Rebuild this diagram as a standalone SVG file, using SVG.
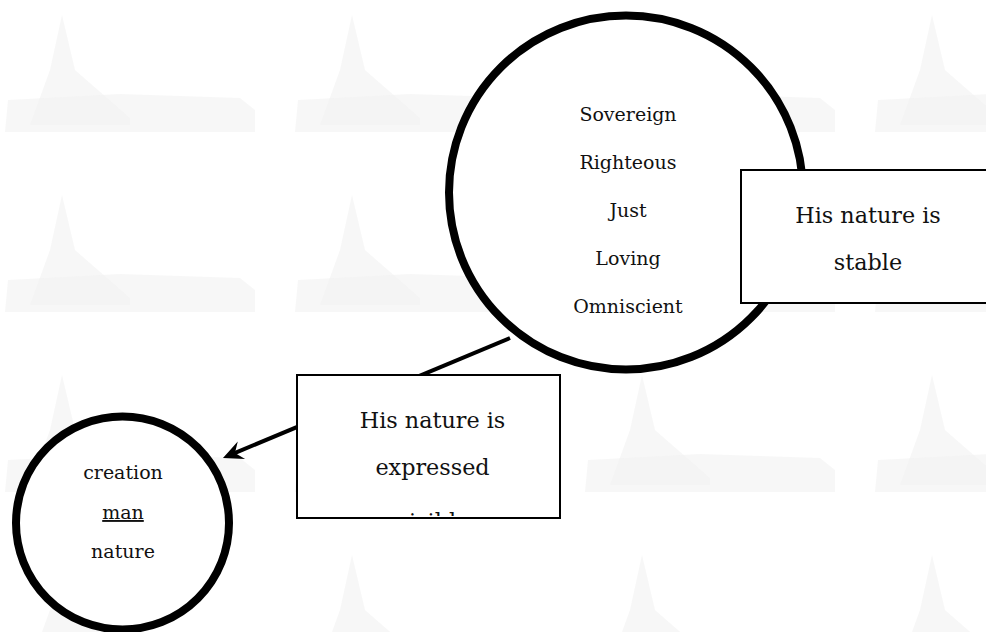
<svg xmlns="http://www.w3.org/2000/svg" width="986" height="632" viewBox="0 0 986 632">
<style>
.t{font-family:"DejaVu Serif","Liberation Serif",serif;fill:#111;text-anchor:middle}
.s{font-size:19px}
.b{font-size:22.3px}
.node{fill:#fff;stroke:#000}
.wm{fill:#f1f1f1}
</style>
<defs>
<pattern id="church" x="0" y="0" width="290" height="180" patternUnits="userSpaceOnUse">
<path class="wm" d="M30,125 L50,70 L62,15 L75,70 L130,118 L130,125 Z" opacity="0.6"/>
<path class="wm" d="M8,100 L120,94 L240,98 L255,110 L255,132 L5,132 Z" opacity="0.6"/>
</pattern>
<marker id="arr" viewBox="-12 -12 24 24" markerWidth="24" markerHeight="24" refX="0" refY="0" orient="auto" markerUnits="userSpaceOnUse">
<path d="M10,0 L-10,-9.5 L-3,0 L-10,9.5 Z" fill="#000"/>
</marker>
<clipPath id="clipLow"><rect x="297" y="375" width="263" height="141"/></clipPath>
</defs>
<rect width="986" height="632" fill="#fff"/>
<rect width="986" height="632" fill="url(#church)"/>
<g id="connectors">
<line x1="510" y1="338" x2="232.2" y2="454.1" stroke="#000" stroke-width="4" marker-end="url(#arr)"/>
</g>
<g id="god">
<circle class="node" cx="626" cy="192.5" r="177" stroke-width="8"/>
<text class="t s" x="628" y="121">Sovereign</text>
<text class="t s" x="628" y="169">Righteous</text>
<text class="t s" x="628" y="217">Just</text>
<text class="t s" x="628" y="265">Loving</text>
<text class="t s" x="628" y="313">Omniscient</text>
</g>
<g id="creation">
<circle class="node" cx="122.5" cy="523" r="106.5" stroke-width="8"/>
<text class="t s" x="123" y="479">creation</text>
<text class="t s" x="123" y="519" text-decoration="underline">man</text>
<text class="t s" x="123" y="558">nature</text>
</g>
<g id="stable">
<rect class="node" x="741" y="170" width="262" height="133" stroke-width="2"/>
<text class="t b" x="868" y="223">His nature is</text>
<text class="t b" x="868" y="270">stable</text>
</g>
<g id="expressed">
<rect class="node" x="297" y="375" width="263" height="143" stroke-width="2"/>
<text class="t b" x="432.5" y="428">His nature is</text>
<text class="t b" x="432.5" y="475">expressed</text>
<text class="t b" x="432.5" y="529" clip-path="url(#clipLow)">visibly</text>
</g>
</svg>
